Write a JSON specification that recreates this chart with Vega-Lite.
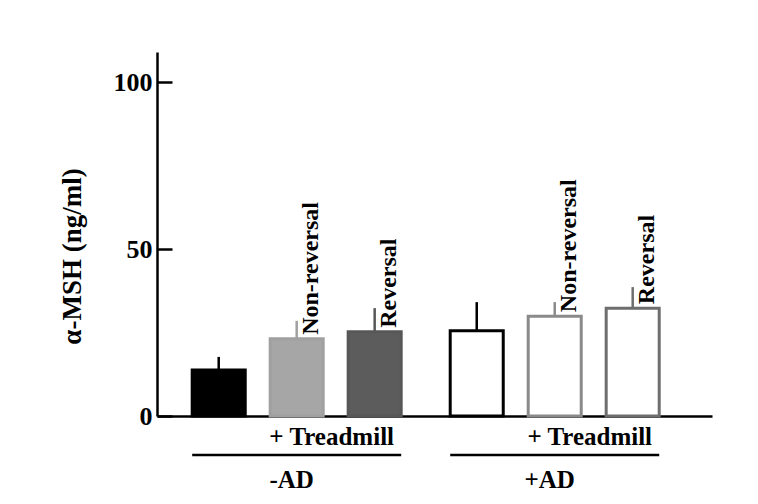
{
  "$schema": "https://vega.github.io/schema/vega-lite/v6.json",
  "width": 555,
  "height": 364,
  "autosize": "none",
  "padding": {"left": 157, "top": 52, "right": 46, "bottom": 88},
  "background": "white",
  "config": {"view": {"stroke": null}, "font": "Liberation Serif"},
  "datasets": {
    "bars": [
      {"group": "-AD", "cond": "Control", "id": "-AD Control", "value": 13.8, "upper": 17.7, "label": ""},
      {"group": "-AD", "cond": "Non-reversal", "id": "-AD Non-reversal", "value": 23.1, "upper": 28.5, "label": "Non-reversal"},
      {"group": "-AD", "cond": "Reversal", "id": "-AD Reversal", "value": 25.2, "upper": 32.3, "label": "Reversal"},
      {"group": "+AD", "cond": "Control", "id": "+AD Control", "value": 25.5, "upper": 34.1, "label": ""},
      {"group": "+AD", "cond": "Non-reversal", "id": "+AD Non-reversal", "value": 29.9, "upper": 34.1, "label": "Non-reversal"},
      {"group": "+AD", "cond": "Reversal", "id": "+AD Reversal", "value": 32.3, "upper": 38.6, "label": "Reversal"}
    ],
    "groups": [
      {"group": "-AD", "treat": "+ Treadmill"},
      {"group": "+AD", "treat": "+ Treadmill"}
    ]
  },
  "layer": [
    {
      "data": {"name": "bars"},
      "mark": {"type": "rule", "strokeWidth": 2.5},
      "encoding": {
        "x": {"field": "group", "type": "nominal", "sort": ["-AD", "+AD"],
              "scale": {"paddingInner": 0.19, "paddingOuter": 0.1705, "align": 0.4},
              "axis": {"labels": false, "ticks": false, "title": null, "domainColor": "black", "domainWidth": 2.5}},
        "xOffset": {"field": "cond", "type": "nominal", "sort": ["Control", "Non-reversal", "Reversal"],
                    "scale": {"paddingInner": 0.32, "paddingOuter": 0}},
        "y": {"field": "value", "type": "quantitative"},
        "y2": {"field": "upper"},
        "stroke": {"field": "id", "type": "nominal", "legend": null,
                   "scale": {"domain": ["-AD Control", "-AD Non-reversal", "-AD Reversal", "+AD Control", "+AD Non-reversal", "+AD Reversal"],
                             "range": ["#000000", "#a0a0a0", "#575757", "#000000", "#8a8a8a", "#6e6e6e"]}}
      }
    },
    {
      "data": {"name": "bars"},
      "mark": {"type": "bar", "strokeWidth": 3},
      "encoding": {
        "x": {"field": "group", "type": "nominal", "sort": ["-AD", "+AD"]},
        "xOffset": {"field": "cond", "type": "nominal", "sort": ["Control", "Non-reversal", "Reversal"]},
        "y": {"field": "value", "type": "quantitative",
              "scale": {"domain": [0, 109], "nice": false},
              "axis": {"title": "α-MSH (ng/ml)", "values": [0, 50, 100], "grid": false,
                       "domainColor": "black", "domainWidth": 2.5,
                       "tickColor": "black", "tickWidth": 2.5, "tickSize": -15,
                       "labelPadding": 20, "labelFont": "Liberation Serif", "labelFontWeight": "bold",
                       "labelFontSize": 26, "labelColor": "black",
                       "titleFont": "Liberation Serif", "titleFontWeight": "bold", "titleFontSize": 27,
                       "titleColor": "black", "titlePadding": 27, "titleY": 204}},
        "fill": {"field": "id", "type": "nominal", "legend": null,
                 "scale": {"domain": ["-AD Control", "-AD Non-reversal", "-AD Reversal", "+AD Control", "+AD Non-reversal", "+AD Reversal"],
                           "range": ["#000000", "#a6a6a6", "#5c5c5c", "#ffffff", "#ffffff", "#ffffff"]}},
        "stroke": {"field": "id", "type": "nominal", "legend": null}
      }
    },
    {
      "data": {"name": "bars"},
      "transform": [{"filter": "datum.label != ''"}],
      "mark": {"type": "text", "angle": 270, "align": "left", "baseline": "middle", "dx": 4, "dy": 14,
               "font": "Liberation Serif", "fontWeight": "bold", "fontSize": 24, "color": "black"},
      "encoding": {
        "x": {"field": "group", "type": "nominal", "sort": ["-AD", "+AD"]},
        "xOffset": {"field": "cond", "type": "nominal", "sort": ["Control", "Non-reversal", "Reversal"]},
        "y": {"field": "value", "type": "quantitative"},
        "text": {"field": "label"}
      }
    },
    {
      "data": {"name": "groups"},
      "mark": {"type": "text", "align": "center", "baseline": "alphabetic", "dx": 35, "dy": 29,
               "font": "Liberation Serif", "fontWeight": "bold", "fontSize": 25, "color": "black"},
      "encoding": {
        "x": {"field": "group", "type": "nominal", "sort": ["-AD", "+AD"]},
        "y": {"datum": 0},
        "text": {"field": "treat"}
      }
    },
    {
      "data": {"name": "groups"},
      "mark": {"type": "rule", "yOffset": 39, "strokeWidth": 2.5, "color": "black"},
      "encoding": {
        "x": {"field": "group", "type": "nominal", "sort": ["-AD", "+AD"], "bandPosition": 0},
        "x2": {"field": "group", "bandPosition": 1},
        "y": {"datum": 0}
      }
    },
    {
      "data": {"name": "groups"},
      "mark": {"type": "text", "align": "center", "baseline": "alphabetic", "dx": -5, "dy": 72,
               "font": "Liberation Serif", "fontWeight": "bold", "fontSize": 25, "color": "black"},
      "encoding": {
        "x": {"field": "group", "type": "nominal", "sort": ["-AD", "+AD"]},
        "y": {"datum": 0},
        "text": {"field": "group"}
      }
    }
  ]
}
